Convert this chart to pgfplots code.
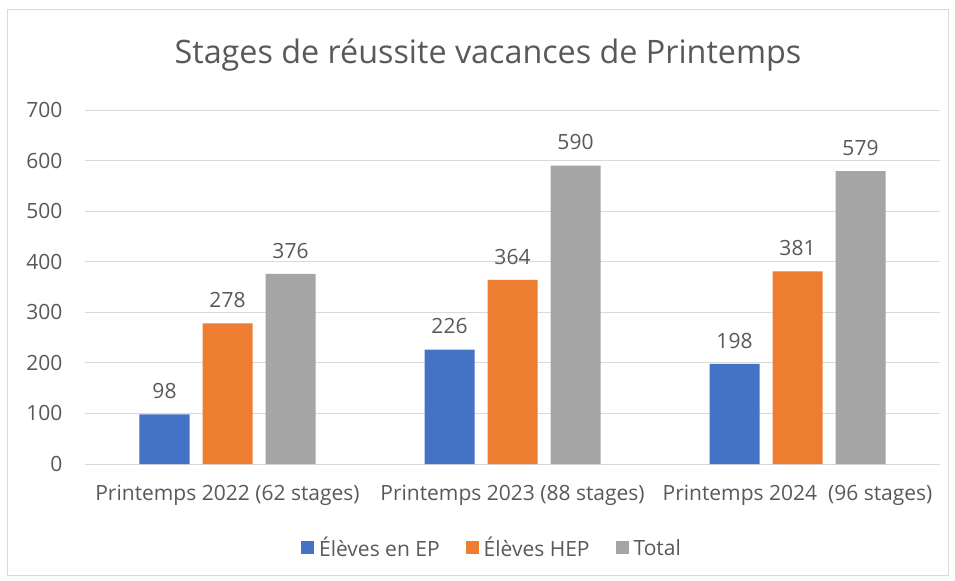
\documentclass[border=0pt]{standalone}
\usepackage{fontspec}
\setmainfont{Open Sans}
\usepackage{pgfplots}
\pgfplotsset{compat=1.18}
\definecolor{cblue}{HTML}{4472C4}
\definecolor{corange}{HTML}{ED7D31}
\definecolor{cgray}{HTML}{A5A5A5}
\definecolor{ctext}{HTML}{595959}
\definecolor{cgrid}{HTML}{D9D9D9}
\newcommand{\lblfont}{\fontsize{21bp}{25bp}\selectfont}
\begin{document}
\begin{tikzpicture}
\fill[white] (-85bp,-117bp) rectangle (870bp,464bp);
\draw[cgrid, line width=1bp] (-77bp,-111bp) rectangle (863bp,454bp);
\node[text=ctext, font=\fontsize{32.3bp}{38bp}\selectfont] at (403bp,409bp) {Stages de réussite vacances de Printemps};
\begin{axis}[
  at={(0,0)}, anchor=south west,
  scale only axis, width=855bp, height=354bp,
  xmin=-0.5, xmax=2.5, ymin=0, ymax=700,
  xtick={0,1,2},
  xticklabels={Printemps 2022 (62 stages), Printemps 2023 (88 stages), Printemps 2024\ \ (96 stages)},
  ytick={0,100,...,700},
  ymajorgrids, grid style={cgrid, line width=1bp},
  axis x line*=bottom, axis y line*=left,
  y axis line style={draw=none},
  x axis line style={draw=cgrid, line width=1bp},
  major tick length=0pt,
  tick style={draw=none},
  /pgf/number format/assume math mode=true,
  ticklabel style={font=\lblfont, text=ctext},
  yticklabel style={anchor=east, xshift=-19bp},
  xticklabel style={anchor=north, yshift=-18bp},
  ybar, bar width=50bp,
  nodes near coords,
  every node near coord/.append style={font=\lblfont, text=ctext, yshift=12bp},
  legend style={at={(0.476,-0.237)}, anchor=center, draw=none, fill=none,
    legend columns=-1, font=\lblfont, text=ctext,
    /tikz/every odd column/.append style={column sep=3bp},
    /tikz/every even column/.append style={column sep=24bp}},
  legend image code/.code={\path[#1] (0bp,-6bp) rectangle (13bp,7bp);},
]
\addplot[fill=cblue, draw=none, bar shift=-63bp] coordinates {(0,98) (1,226) (2,198)};
\addplot[fill=corange, draw=none, bar shift=0bp] coordinates {(0,278) (1,364) (2,381)};
\addplot[fill=cgray, draw=none, bar shift=63bp] coordinates {(0,376) (1,590) (2,579)};
\legend{Élèves en EP, Élèves HEP, Total}
\end{axis}
\end{tikzpicture}
\end{document}
